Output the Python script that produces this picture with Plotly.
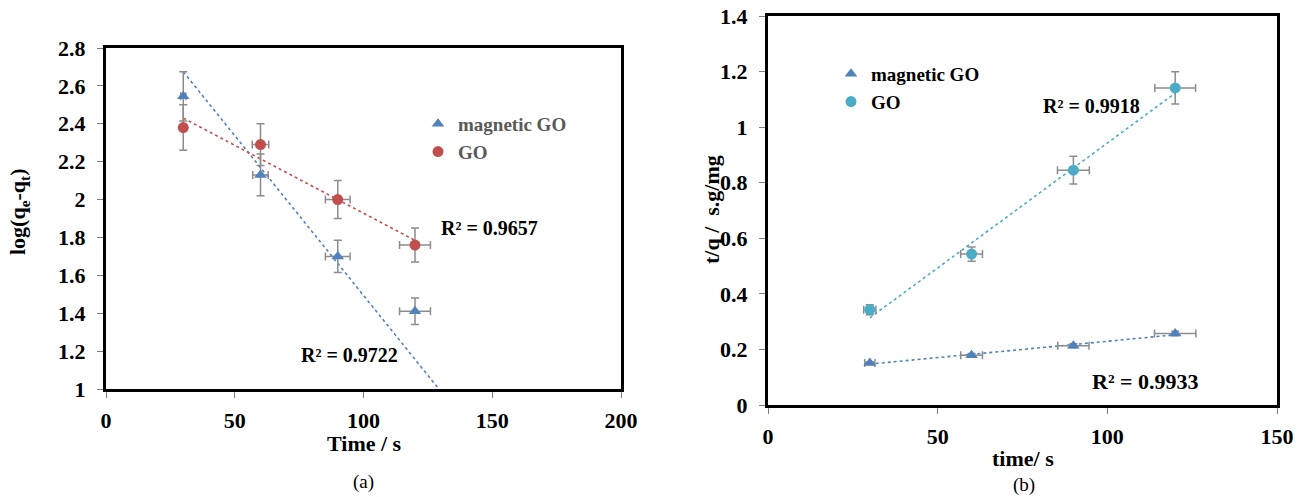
import plotly.graph_objects as go

# ---- data -------------------------------------------------------------
time_s = [30, 60, 90, 120]

# (a) pseudo-first-order plot: log(qe - qt)
a_mag_log = [2.545, 2.13, 1.70, 1.41]
a_mag_yerr = [0.13, 0.11, 0.085, 0.07]
a_mag_xerr = [1.0, 3.0, 4.8, 6.0]
a_go_log = [2.38, 2.29, 2.00, 1.76]
a_go_yerr = [0.12, 0.11, 0.10, 0.09]
a_go_xerr = [1.0, 3.2, 4.8, 6.0]

# (b) pseudo-second-order plot: t/q
b_mag_tq = [0.151, 0.179, 0.213, 0.257]
b_mag_yerr = [0.005, 0.006, 0.007, 0.008]
b_mag_xerr = [1.5, 3.2, 4.6, 6.1]
b_go_tq = [0.343, 0.543, 0.845, 1.141]
b_go_yerr = [0.018, 0.026, 0.05, 0.058]
b_go_xerr = [1.8, 3.2, 4.7, 6.0]

# linear trendlines (slope, intercept) and the x span they cover
a_mag_fit = (-0.01687, 3.181)
a_mag_fit_x = [30, 130]
a_go_fit = (-0.00717, 2.645)
a_go_fit_x = [30, 120]
b_mag_fit = (0.001173, 0.112)
b_mag_fit_x = [30, 120]
b_go_fit = (0.008987, 0.044)
b_go_fit_x = [30, 120]

r2_labels = {"a_go": "R² = 0.9657", "a_mag": "R² = 0.9722",
             "b_go": "R² = 0.9918", "b_mag": "R² = 0.9933"}

# ---- style ------------------------------------------------------------
FONT = "Liberation Serif"
BLUE = "#4F81BD"
RED = "#C0504D"
CYAN = "#4BACC6"
ERR = "#8C8C8C"


def fit_line(fit, xs):
    m, b = fit
    return xs, [m * x + b for x in xs]


def err(vals):
    return dict(type="data", array=vals, visible=True, color=ERR,
                thickness=1.5, width=4)


fig = go.Figure()

# trendlines (drawn first so points sit on top)
for fit, xs, color, xa, ya in [
    (a_mag_fit, a_mag_fit_x, BLUE, "x", "y"),
    (a_go_fit, a_go_fit_x, RED, "x", "y"),
    (b_mag_fit, b_mag_fit_x, BLUE, "x2", "y2"),
    (b_go_fit, b_go_fit_x, CYAN, "x2", "y2"),
]:
    lx, ly = fit_line(fit, xs)
    fig.add_trace(go.Scatter(x=lx, y=ly, mode="lines", xaxis=xa, yaxis=ya,
                             line=dict(color=color, width=1.6, dash="dot"),
                             showlegend=False, hoverinfo="skip"))

# (a) points
fig.add_trace(go.Scatter(x=time_s, y=a_mag_log, mode="markers", name="magnetic GO",
                         marker=dict(symbol="triangle-up", size=11, color=BLUE),
                         error_y=err(a_mag_yerr), error_x=err(a_mag_xerr),
                         xaxis="x", yaxis="y", legend="legend"))
fig.add_trace(go.Scatter(x=time_s, y=a_go_log, mode="markers", name="GO",
                         marker=dict(symbol="circle", size=11, color=RED),
                         error_y=err(a_go_yerr), error_x=err(a_go_xerr),
                         xaxis="x", yaxis="y", legend="legend"))

# (b) points
fig.add_trace(go.Scatter(x=time_s, y=b_mag_tq, mode="markers", name="magnetic GO",
                         marker=dict(symbol="triangle-up", size=11, color=BLUE),
                         error_y=err(b_mag_yerr), error_x=err(b_mag_xerr),
                         xaxis="x2", yaxis="y2", legend="legend2"))
fig.add_trace(go.Scatter(x=time_s, y=b_go_tq, mode="markers", name="GO",
                         marker=dict(symbol="circle", size=11, color=CYAN),
                         error_y=err(b_go_yerr), error_x=err(b_go_xerr),
                         xaxis="x2", yaxis="y2", legend="legend2"))

W, H = 1307, 497
tickfont = dict(family=FONT, size=22, color="black", weight="bold")
axis_common = dict(showline=True, mirror=True, linecolor="black", linewidth=3,
                   ticks="outside", ticklen=6, tickwidth=1, tickcolor="#7F7F7F",
                   showgrid=False, zeroline=False, tickfont=tickfont,
                   tickprefix="<b>", ticksuffix="</b>", automargin=False)

fig.update_layout(
    width=W, height=H, autosize=False,
    font=dict(family=FONT, size=21, color="black", weight="bold"),
    margin=dict(l=0, r=0, t=0, b=0, pad=0, autoexpand=False),
    paper_bgcolor="white", plot_bgcolor="white",
    xaxis=dict(domain=[106 / W, 621 / W], range=[0, 200], dtick=50,
               anchor="y", ticklabelstandoff=4, **axis_common),
    yaxis=dict(domain=[1 - 389 / H, 1 - 48 / H], range=[1, 2.8], dtick=0.2,
               anchor="x", ticklabelstandoff=7, **axis_common),
    xaxis2=dict(domain=[768 / W, 1277 / W], range=[0, 150], dtick=50,
                anchor="y2", ticklabelstandoff=4, **axis_common),
    yaxis2=dict(domain=[1 - 405 / H, 1 - 16 / H], range=[0, 1.4], dtick=0.2,
                anchor="x2", ticklabelstandoff=7, **axis_common),
    legend=dict(x=(458 - 40) / W, y=1 - 105 / H, xanchor="left", yanchor="top",
                font=dict(family=FONT, size=19, color="#595959", weight="bold"),
                bgcolor="rgba(0,0,0,0)", tracegroupgap=0),
    legend2=dict(x=(871 - 40) / W, y=1 - 55 / H, xanchor="left", yanchor="top",
                 font=dict(family=FONT, size=19, color="black", weight="bold"),
                 bgcolor="rgba(0,0,0,0)", tracegroupgap=0),
)


def bold(size):
    return dict(family=FONT, size=size, color="black", weight="bold")


annotations = [
    # R² labels
    dict(x=148.8, y=1.85, xref="x", yref="y", text=r2_labels["a_go"], font=bold(20)),
    dict(x=94.6, y=1.179, xref="x", yref="y", text=r2_labels["a_mag"], font=bold(20)),
    dict(x=95.2, y=1.076, xref="x2", yref="y2", text=r2_labels["b_go"], font=bold(20)),
    dict(x=111.3, y=0.086, xref="x2", yref="y2", text=r2_labels["b_mag"], font=bold(22)),
    # axis titles
    dict(x=364 / W, y=1 - 443 / H, xref="paper", yref="paper", text="Time / s",
         font=bold(22)),
    dict(x=19 / W, y=1 - 212 / H, xref="paper", yref="paper",
         text="log(q<sub>e</sub>-q<sub>t</sub>)", textangle=-90, font=bold(22)),
    dict(x=1023 / W, y=1 - 458 / H, xref="paper", yref="paper", text="time/ s",
         font=bold(22)),
    dict(x=711 / W, y=1 - 210 / H, xref="paper", yref="paper",
         text="t/q\u00a0/\u00a0\u00a0s.g/mg", textangle=-90, font=bold(22)),
    # panel captions
    dict(x=363 / W, y=1 - 482 / H, xref="paper", yref="paper", text="(a)",
         font=dict(family=FONT, size=19, color="black", weight="normal")),
    dict(x=1024 / W, y=1 - 485 / H, xref="paper", yref="paper", text="(b)",
         font=dict(family=FONT, size=19, color="black", weight="normal")),
]
for a in annotations:
    a.update(showarrow=False, xanchor="center", yanchor="middle")
fig.update_layout(annotations=annotations)

fig.write_html("out.html")
